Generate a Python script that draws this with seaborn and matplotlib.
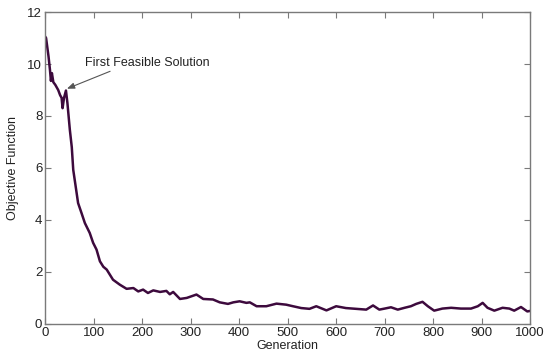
import numpy as np
import matplotlib
matplotlib.use("Agg")
import matplotlib.pyplot as plt
import seaborn as sns
import pandas as pd

# values
generation = [0, 2, 7, 10, 12, 14, 17, 21, 27, 31, 34, 36, 39, 43, 46, 51, 55, 58, 62, 68,
              75, 82, 92, 99, 106, 113, 120, 127, 140, 154, 168, 182, 192, 202, 212, 223,
              237, 250, 257, 264, 278, 292, 312, 326, 346, 360, 377, 388, 401, 415, 422,
              436, 456, 477, 497, 511, 528, 545, 559, 580, 600, 620, 641, 662, 676, 689,
              700, 713, 727, 741, 754, 765, 778, 789, 802, 819, 837, 857, 878, 892, 902,
              912, 926, 943, 957, 967, 981, 994, 1000]
objective = [11.06, 11.0, 10.3, 9.78, 9.35, 9.65, 9.3, 9.2, 9.0, 8.8, 8.7, 8.3, 8.7, 8.98,
             8.5, 7.47, 6.8, 5.93, 5.42, 4.65, 4.27, 3.88, 3.5, 3.12, 2.86, 2.41, 2.2, 2.09,
             1.7, 1.51, 1.35, 1.38, 1.25, 1.32, 1.19, 1.29, 1.23, 1.27, 1.14, 1.23, 0.96,
             1.0, 1.13, 0.96, 0.94, 0.83, 0.77, 0.83, 0.87, 0.81, 0.83, 0.68, 0.68, 0.78,
             0.74, 0.68, 0.61, 0.58, 0.68, 0.52, 0.68, 0.61, 0.58, 0.55, 0.71, 0.55, 0.59,
             0.64, 0.55, 0.62, 0.68, 0.77, 0.85, 0.68, 0.51, 0.59, 0.62, 0.59, 0.59, 0.68,
             0.81, 0.62, 0.51, 0.62, 0.59, 0.51, 0.65, 0.48, 0.5]

df = pd.DataFrame({"Generation": generation, "Objective Function": objective})

sns.set_style("ticks")
plt.rcParams["font.family"] = ["Liberation Sans", "DejaVu Sans"]
plt.rcParams["font.size"] = 9

fig = plt.figure(figsize=(5.5, 3.54), dpi=100)
ax = fig.add_axes([0.082, 0.085, 0.882, 0.881])

sns.lineplot(data=df, x="Generation", y="Objective Function", color="#3d0a3d",
             linewidth=1.8, ax=ax)

ax.set_xlim(0, 1000)
ax.set_ylim(0, 12)
ax.set_xticks(range(0, 1001, 100))
ax.set_yticks(range(0, 13, 2))
ax.set_xlabel("Generation", fontsize=9, color="#222222", labelpad=1)
ax.set_ylabel("Objective Function", fontsize=9, color="#222222", labelpad=6)

for s in ax.spines.values():
    s.set_visible(True)
    s.set_color("#7a7a7a")
    s.set_linewidth(1.0)
ax.tick_params(direction="in", length=4, width=0.8, color="#7a7a7a",
               labelsize=9.5, labelcolor="#222222", top=True, right=True, pad=2)

ax.text(82, 10.05, "First Feasible Solution", fontsize=9, color="#222222",
        ha="left", va="center")
ax.annotate("", xy=(45, 9.05), xytext=(134, 9.72),
            arrowprops=dict(arrowstyle="-|>,head_length=0.5,head_width=0.2",
                            color="#555555", lw=0.8, shrinkA=0, shrinkB=0))

fig.savefig("out.png", dpi=100)
